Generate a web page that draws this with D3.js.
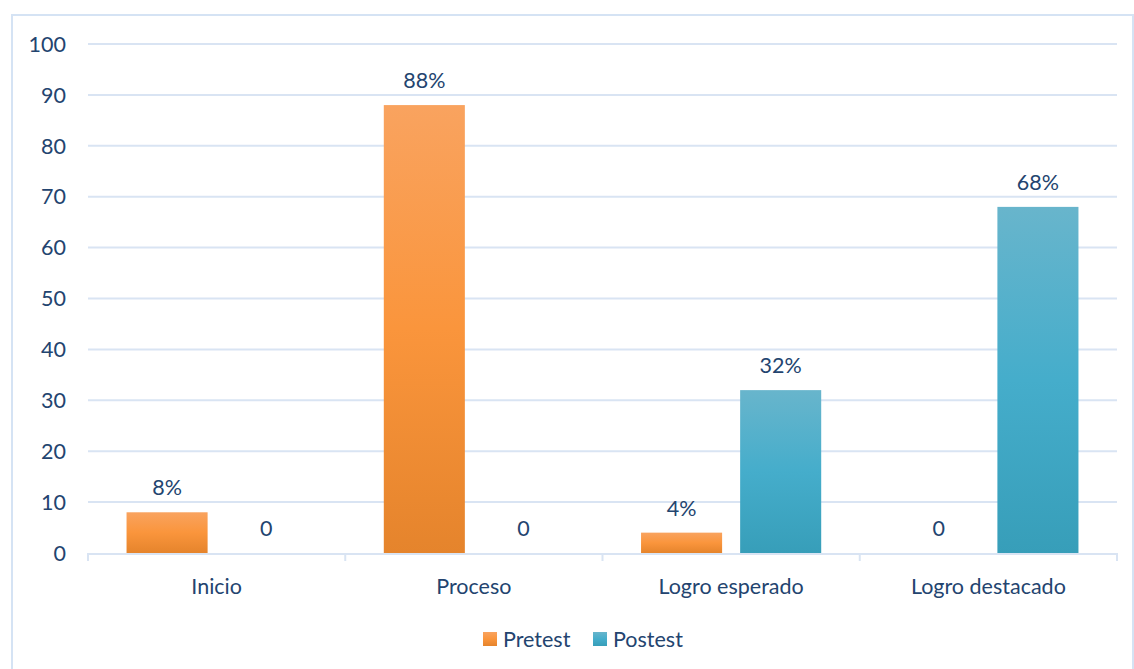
<!DOCTYPE html>
<html>
<head>
<meta charset="utf-8">
<script src="https://cdn.jsdelivr.net/npm/d3@7"></script>
<style>
  body { margin: 0; background: #fff; }
  svg text { font-family: Lato, "Open Sans", sans-serif; fill: #23446f; }
</style>
</head>
<body>
<svg width="1134" height="669"></svg>
<script>
  var categories = ["Inicio", "Proceso", "Logro esperado", "Logro destacado"];
  var seriesNames = ["Pretest", "Postest"];
  var pretest = [8, 88, 4, 0];
  var postest = [0, 0, 32, 68];
  var yTicks = [0, 10, 20, 30, 40, 50, 60, 70, 80, 90, 100];

  var svg = d3.select("svg");
  var m = {left: 88, right: 1117, top: 44, bottom: 553};
  var fs = "21.5px";

  // frame
  svg.append("rect")
    .attr("x", 12).attr("y", 15).attr("width", 1121).attr("height", 670)
    .attr("fill", "none").attr("stroke", "#d5e3f4").attr("stroke-width", 2);

  var defs = svg.append("defs");
  var grads = [["gPre", "#f9a35f", "#fa953c", "#e5842c"], ["gPost", "#68b5cc", "#45adcb", "#379eb9"]];
  grads.forEach(function(g){
    var lg = defs.append("linearGradient").attr("id", g[0])
      .attr("x1", 0).attr("y1", 0).attr("x2", 0).attr("y2", 1);
    lg.append("stop").attr("offset", "0%").attr("stop-color", g[1]);
    lg.append("stop").attr("offset", "50%").attr("stop-color", g[2]);
    lg.append("stop").attr("offset", "100%").attr("stop-color", g[3]);
  });

  var x = d3.scaleBand().domain(categories).range([m.left, m.right]);
  var x1 = d3.scaleBand().domain(seriesNames).range([0, x.bandwidth()])
    .paddingInner(0.182).paddingOuter(0.389);
  var y = d3.scaleLinear().domain([0, 100]).range([m.bottom, m.top]);

  // gridlines
  svg.append("g").selectAll("line").data(yTicks.filter(function(d){ return d > 0; }))
    .enter().append("line")
      .attr("x1", m.left).attr("x2", m.right)
      .attr("y1", function(d){ return y(d); }).attr("y2", function(d){ return y(d); })
      .attr("stroke", "#d9e4f3").attr("stroke-width", 2);

  // y labels
  svg.append("g").selectAll("text").data(yTicks).enter().append("text")
    .attr("x", 66).attr("y", function(d){ return y(d); })
    .attr("dy", "0.36em").attr("text-anchor", "end")
    .style("font-size", fs)
    .text(function(d){ return d; });

  // x axis line + ticks
  var xa = svg.append("g");
  xa.append("line").attr("x1", m.left).attr("x2", m.right)
    .attr("y1", m.bottom + 1).attr("y2", m.bottom + 1)
    .attr("stroke", "#d9e4f3").attr("stroke-width", 2);
  xa.selectAll("line.tk").data(d3.range(categories.length + 1)).enter().append("line")
    .attr("class", "tk")
    .attr("x1", function(i){ return m.left + i * x.step(); })
    .attr("x2", function(i){ return m.left + i * x.step(); })
    .attr("y1", m.bottom).attr("y2", m.bottom + 8)
    .attr("stroke", "#d9e4f3").attr("stroke-width", 2);
  xa.selectAll("text").data(categories).enter().append("text")
    .attr("x", function(d){ return x(d) + x.bandwidth() / 2; })
    .attr("y", 594).attr("text-anchor", "middle")
    .style("font-size", fs)
    .text(function(d){ return d; });

  var rows = categories.map(function(c, i){
    return {cat: c, vals: [{s: "Pretest", v: pretest[i]}, {s: "Postest", v: postest[i]}]};
  });

  var grp = svg.append("g").selectAll("g").data(rows).enter().append("g")
    .attr("transform", function(d){ return "translate(" + x(d.cat) + ",0)"; });

  grp.selectAll("rect").data(function(d){ return d.vals.filter(function(e){ return e.v > 0; }); })
    .enter().append("rect")
      .attr("x", function(d){ return x1(d.s); })
      .attr("width", x1.bandwidth())
      .attr("y", function(d){ return y(d.v); })
      .attr("height", function(d){ return y(0) - y(d.v); })
      .attr("fill", function(d){ return d.s === "Pretest" ? "url(#gPre)" : "url(#gPost)"; });

  grp.selectAll("text").data(function(d){ return d.vals; })
    .enter().append("text")
      .attr("x", function(d){ return x1(d.s) + x1.bandwidth() / 2; })
      .attr("y", function(d){ return y(d.v) - 17; })
      .attr("text-anchor", "middle")
      .style("font-size", fs)
      .text(function(d){ return d.v === 0 ? "0" : d.v + "%"; });

  // legend
  var leg = svg.append("g");
  var legX = [483, 593];
  seriesNames.forEach(function(s, i){
    leg.append("rect").attr("x", legX[i]).attr("y", 632).attr("width", 14).attr("height", 14)
      .attr("fill", i === 0 ? "url(#gPre)" : "url(#gPost)");
    leg.append("text").attr("x", legX[i] + 20).attr("y", 647)
      .style("font-size", fs).text(s);
  });
</script>
</body>
</html>
